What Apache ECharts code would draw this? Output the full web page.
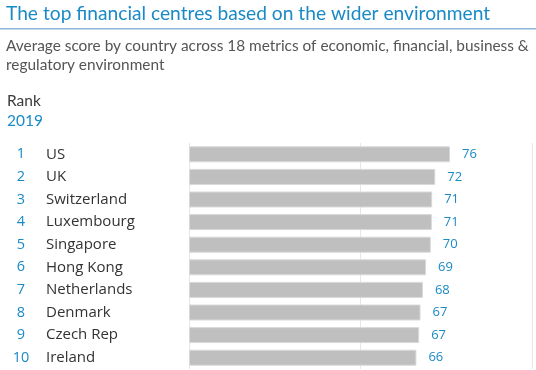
<!DOCTYPE html>
<html><head><meta charset="utf-8">
<script src="https://cdn.jsdelivr.net/npm/echarts@6/dist/echarts.min.js"></script>
<style>html,body{margin:0;padding:0;background:#fff}#c{width:536px;height:370px}</style>
</head><body><div id="c"></div>
<script>
const ranks = ['1','2','3','4','5','6','7','8','9','10'];
const countries = ['US','UK','Switzerland','Luxembourg','Singapore','Hong Kong','Netherlands','Denmark','Czech Rep','Ireland'];
const scores = [76.1, 71.8, 70.9, 70.8, 70.5, 69.1, 68.2, 67.5, 67.1, 66.3];
const labels = ['76','72','71','71','70','69','68','67','67','66'];
const titleText = 'The top financial centres based on the wider environment';
const subText = 'Average score by country across 18 metrics of economic, financial, business &\nregulatory environment';

const blue = '#1a8ac6';
const chart = echarts.init(document.getElementById('c'));
chart.setOption({
  animation: false,
  title: [
    {text: titleText, left: 6, top: 4, padding: 0,
     textStyle: {color: blue, fontFamily: 'Lato', fontWeight: 'normal', fontSize: 19.2}},
    {text: subText, left: 6, top: 37, padding: 0,
     textStyle: {color: '#555', fontFamily: 'Lato', fontWeight: 'normal', fontSize: 15.4, lineHeight: 19}},
    {text: 'Rank', left: 7, top: 93, padding: 0,
     textStyle: {color: '#3a3a3a', fontFamily: 'Lato', fontWeight: 'normal', fontSize: 15.5}},
    {text: '2019', left: 7, top: 113, padding: 0,
     textStyle: {color: blue, fontFamily: 'Lato', fontWeight: 'normal', fontSize: 15.5}}
  ],
  graphic: [{type: 'rect', shape: {x: 0, y: 28, width: 536, height: 1.5}, style: {fill: '#8fb6dc'}}],
  grid: {left: 189, right: 4, top: 143, bottom: 1},
  xAxis: {type: 'value', min: 0, max: 100, interval: 50,
    axisLabel: {show: false}, axisTick: {show: false}, axisLine: {show: false},
    splitLine: {lineStyle: {color: '#e6e6e6', width: 1}}},
  yAxis: {type: 'category', inverse: true, data: countries,
    axisLine: {show: false}, axisTick: {show: false},
    axisLabel: {align: 'left', margin: 182,
      formatter: (v, i) => '{r|' + ranks[i] + '}{n|' + v + '}',
      rich: {
        r: {width: 28, align: 'center', color: blue, fontFamily: 'Open Sans', fontSize: 14.5},
        n: {padding: [0, 0, 0, 11], color: '#333', fontFamily: 'Open Sans', fontSize: 15}
      }}},
  series: [{type: 'bar', data: scores, barWidth: 16,
    itemStyle: {color: '#bfbfbf', borderColor: '#d9d9d9', borderWidth: 1},
    label: {show: true, position: 'right', distance: 12, color: blue,
      fontFamily: 'Open Sans', fontSize: 13,
      formatter: p => labels[p.dataIndex]}}]
});
</script></body></html>
